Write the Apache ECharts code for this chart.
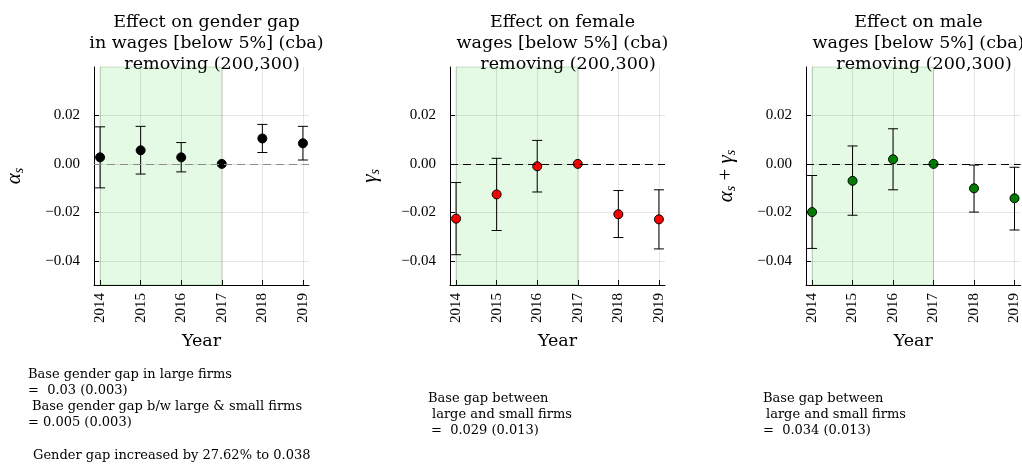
<!DOCTYPE html>
<html>
<head>
<meta charset="utf-8">
<script src="https://cdn.jsdelivr.net/npm/echarts@6/dist/echarts.min.js"></script>
<style>html,body{margin:0;padding:0;background:#fff;}#c{width:1022px;height:467px;}</style>
</head>
<body>
<div id="c"></div>
<script>
const years = [2014, 2015, 2016, 2017, 2018, 2019];
const yTicks = [-0.04, -0.02, 0, 0.02];
const gapEst = [0.0027, 0.0056, 0.0027, 0, 0.0105, 0.0085];
const gapLo  = [-0.0099, -0.0042, -0.0033, null, 0.0047, 0.0016];
const gapHi  = [0.0153, 0.0155, 0.0088, null, 0.0163, 0.0155];
const femEst = [-0.0226, -0.0126, -0.0010, 0, -0.0208, -0.0229];
const femLo  = [-0.0375, -0.0275, -0.0116, null, -0.0304, -0.0351];
const femHi  = [-0.0077, 0.0023, 0.0097, null, -0.0110, -0.0107];
const maleEst = [-0.0199, -0.0070, 0.0019, 0, -0.0101, -0.0142];
const maleLo  = [-0.0349, -0.0212, -0.0107, null, -0.0199, -0.0273];
const maleHi  = [-0.0048, 0.0074, 0.0145, null, -0.0005, -0.0014];
const shadeRange = [2014, 2017];
const titles = [
  "Effect on gender gap\nin wages [below 5%] (cba)\n  removing (200,300)",
  "Effect on female\nwages [below 5%] (cba)\n  removing (200,300)",
  "Effect on male\nwages [below 5%] (cba)\n  removing (200,300)"
];
const notes = [
  [["Base gender gap in large firms", 28, 376], ["=  0.03 (0.003)", 28, 392], ["Base gender gap b/w large & small firms", 32, 408], ["= 0.005 (0.003)", 28, 424], ["Gender gap increased by 27.62% to 0.038", 33, 457]],
  [["Base gap between", 428, 400], ["large and small firms", 432, 416], ["=  0.029 (0.013)", 431, 432]],
  [["Base gap between", 763, 400], ["large and small firms", 766, 416], ["=  0.034 (0.013)", 763, 432]]
];

const SERIF = '"Liberation Serif", "DejaVu Serif", serif';
const WIDE = '"DejaVu Serif", "Liberation Serif", serif';
const lefts = [94, 450, 806];
const W = 215, TOP = 67, H = 218;
const panels = [
  {est: gapEst, lo: gapLo, hi: gapHi, color: '#000000', zero: '#8c8c8c',
   name: '{a|α}{s|s}'},
  {est: femEst, lo: femLo, hi: femHi, color: '#ff0000', zero: '#000000',
   name: '{a|γ}{s|s}'},
  {est: maleEst, lo: maleLo, hi: maleHi, color: '#008000', zero: '#000000',
   name: '{a|α}{s|s}{p| + }{a|γ}{s|s}'}
];

const grid = [], xAxis = [], yAxis = [], series = [], title = [], graphic = [];
panels.forEach((p, i) => {
  grid.push({left: lefts[i], top: TOP, width: W, height: H, containLabel: false});
  title.push({text: titles[i], left: lefts[i] + W / 2, top: 7, textAlign: 'center',
    textStyle: {fontFamily: WIDE, fontSize: 17.5, fontWeight: 'normal', color: '#000', lineHeight: 21}});
  xAxis.push({type: 'value', gridIndex: i, min: 2013.85, max: 2019.15,
    name: 'Year', nameLocation: 'middle', nameGap: 47,
    nameTextStyle: {fontFamily: WIDE, fontSize: 17.5, color: '#000'},
    axisLine: {show: true, onZero: false, lineStyle: {color: '#000', width: 1}},
    axisTick: {show: true, inside: true, length: 5, customValues: years, lineStyle: {color: '#000'}},
    axisLabel: {customValues: years, rotate: 90, margin: 8, fontFamily: SERIF, fontSize: 15, color: '#000',
      formatter: v => String(Math.round(v))},
    splitLine: {show: false}});
  yAxis.push({type: 'value', gridIndex: i, min: -0.05, max: 0.04,
    name: p.name, nameLocation: 'middle', nameGap: 68, nameRotate: 90,
    nameTextStyle: {color: '#000', rich: {
      a: {fontFamily: SERIF, fontSize: 21, fontStyle: 'italic', color: '#000', lineHeight: 24},
      s: {fontFamily: SERIF, fontSize: 14, fontStyle: 'italic', color: '#000', verticalAlign: 'bottom', lineHeight: 14, padding: [8, 0, 0, 0]},
      p: {fontFamily: SERIF, fontSize: 21, color: '#000', lineHeight: 24}
    }},
    axisLine: {show: true, onZero: false, lineStyle: {color: '#000', width: 1}},
    axisTick: {show: true, inside: true, length: 5, customValues: yTicks, lineStyle: {color: '#000'}},
    axisLabel: {customValues: yTicks, margin: 14, fontFamily: SERIF, fontSize: 15, color: '#000',
      formatter: v => (v < 0 ? '\u2212' : '') + Math.abs(v).toFixed(2)},
    splitLine: {show: false}});

  // grid lines + shaded region
  series.push({type: 'line', xAxisIndex: i, yAxisIndex: i, data: [], silent: true, z: 1,
    markArea: {silent: true, itemStyle: {color: 'rgba(0,210,0,0.105)', borderColor: 'rgba(0,90,0,0.18)', borderWidth: 1},
      data: [[{xAxis: shadeRange[0]}, {xAxis: shadeRange[1]}]]},
    markLine: {silent: true, symbol: 'none', animation: false, label: {show: false},
      lineStyle: {color: 'rgba(0,0,0,0.1)', width: 1, type: 'solid'},
      data: years.map(y => ({xAxis: y})).concat(yTicks.map(v => ({yAxis: v})))}
  });
  // zero line
  series.push({type: 'line', xAxisIndex: i, yAxisIndex: i, data: [], silent: true, z: 2,
    markLine: {silent: true, symbol: 'none', animation: false, label: {show: false},
      lineStyle: {color: p.zero, width: 1.2, type: [8, 5]},
      data: [{yAxis: 0}]}
  });
  // error bars
  const eb = [];
  years.forEach((y, k) => { if (p.lo[k] !== null) eb.push([y, p.lo[k], p.hi[k]]); });
  series.push({type: 'custom', xAxisIndex: i, yAxisIndex: i, z: 3, silent: true, animation: false,
    encode: {x: 0, y: [1, 2]}, data: eb,
    renderItem: (params, api) => {
      const x = api.value(0);
      const b = api.coord([x, api.value(1)]);
      const t = api.coord([x, api.value(2)]);
      const w = 5;
      const st = {stroke: '#000', lineWidth: 1};
      return {type: 'group', children: [
        {type: 'line', shape: {x1: t[0], y1: t[1], x2: b[0], y2: b[1]}, style: st},
        {type: 'line', shape: {x1: t[0] - w, y1: t[1], x2: t[0] + w, y2: t[1]}, style: st},
        {type: 'line', shape: {x1: b[0] - w, y1: b[1], x2: b[0] + w, y2: b[1]}, style: st}
      ]};
    }});
  // points
  series.push({type: 'scatter', xAxisIndex: i, yAxisIndex: i, z: 4, animation: false,
    symbol: 'circle', symbolSize: 9,
    itemStyle: {color: p.color, borderColor: '#000', borderWidth: 1, opacity: 1},
    data: years.map((y, k) => [y, p.est[k]])});

  notes[i].forEach(n => {
    graphic.push({type: 'text', left: n[1], top: n[2] - 8, silent: true,
      style: {text: n[0], fontFamily: WIDE, fontSize: 13, fill: '#000'}});
  });
});

const chart = echarts.init(document.getElementById('c'), null, {renderer: 'canvas'});
chart.setOption({animation: false, backgroundColor: '#fff', title, grid, xAxis, yAxis, series, graphic});
</script>
</body>
</html>
